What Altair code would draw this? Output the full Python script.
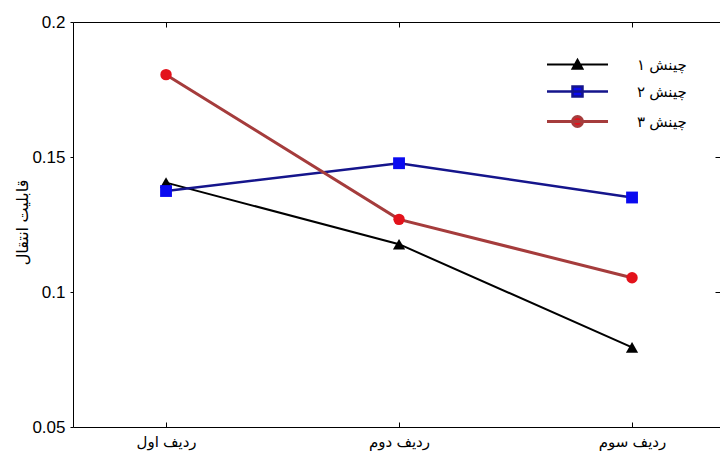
import altair as alt
import pandas as pd

# ---- data ----
categories = ["ردیف اول", "ردیف دوم", "ردیف سوم"]
series_names = ["چینش ۱", "چینش ۲", "چینش ۳"]
values_s1 = [0.1405, 0.1177, 0.0795]
values_s2 = [0.1374, 0.1477, 0.1350]
values_s3 = [0.1805, 0.1269, 0.1053]
y_ticks = [0.05, 0.1, 0.15, 0.2]
y_title = "قابلیت انتقال"

# ---- styles ----
line_colors = ["#000000", "#15158c", "#a53c3c"]
marker_colors = ["#000000", "#0a0af0", "#e3121b"]
marker_shapes = ["triangle-up", "square", "circle"]
marker_sizes = [150, 140, 130]
line_widths = [2, 3, 1.5]
legend_paths = [
    "M-6.1,0H6.1M-1,0.85L0,-0.95L1,0.85Z",
    "M-6.1,0H6.1M-1,-1H1V1H-1Z",
    "M-6.1,0H6.1M-1,0A1,1 0 1,0 1,0A1,1 0 1,0 -1,0Z",
]
FONT = "Liberation Sans, DejaVu Sans"
W, H = 647, 405

series_values = [values_s1, values_s2, values_s3]
rows = []
for s, vals in zip(series_names, series_values):
    for c, v in zip(categories, vals):
        rows.append({"cat": c, "series": s, "val": v})
df = pd.DataFrame(rows)

x_scale = alt.Scale(domain=categories, type="point", padding=0.3884, align=0.514)
y_scale = alt.Scale(domain=[0.05, 0.2], nice=False, zero=False)

base = alt.Chart(df)

lines = base.mark_line().encode(
    x=alt.X("cat:N", scale=x_scale, axis=alt.Axis(
        title=None, orient="bottom", domain=True, domainColor="black", domainWidth=1,
        ticks=False, labelAngle=0, labelFontSize=15, labelFont=FONT, labelColor="black",
        labelPadding=7, grid=False)),
    y=alt.Y("val:Q", scale=y_scale, axis=alt.Axis(
        title=y_title, values=y_ticks, format=".2~f", tickSize=3, tickColor="black",
        domainColor="black", domainWidth=1, labelFontSize=17, labelFont=FONT,
        labelColor="black", labelPadding=5, grid=False, titleFontSize=16,
        titleFont=FONT, titleFontWeight="normal", titleColor="black",
        titleX=-51, titleY=200, titleBaseline="middle")),
    color=alt.Color("series:N", scale=alt.Scale(domain=series_names, range=line_colors), legend=None),
    strokeWidth=alt.StrokeWidth("series:N", scale=alt.Scale(domain=series_names, range=line_widths), legend=None),
)

point_layers = []
extra_x_axes = [
    alt.Axis(orient="top", offset=-H, labels=False, domain=False, ticks=True, tickSize=5,
             tickColor="black", title=None, grid=False),
    alt.Axis(orient="bottom", offset=-H, labels=False, domain=True, domainColor="black",
             ticks=True, tickSize=5, tickColor="black", title=None, grid=False),
    None,
]
extra_y_axes = [
    alt.Axis(orient="left", offset=-W, labels=False, domain=False, values=y_ticks,
             tickSize=5, tickColor="black", title=None, grid=False),
    None,
    None,
]
for i, name in enumerate(series_names):
    point_layers.append(
        base.transform_filter(alt.datum.series == name).mark_point(
            filled=True, shape=marker_shapes[i], size=marker_sizes[i],
            color=marker_colors[i], opacity=1,
        ).encode(
            x=alt.X("cat:N", scale=x_scale, axis=extra_x_axes[i]),
            y=alt.Y("val:Q", scale=y_scale, axis=extra_y_axes[i]),
        )
    )

legend_kw = dict(
    orient="none", legendX=497, legendY=35, title=None, symbolSize=100,
    symbolStrokeWidth=2, labelFontSize=15, labelFont=FONT, labelColor="black",
    labelOffset=52, rowPadding=8, padding=0, symbolOpacity=1, labelLimit=0,
)
legend_layer = base.mark_point(filled=True, opacity=0).encode(
    x=alt.X("cat:N", scale=x_scale, axis=None),
    y=alt.Y("val:Q", scale=y_scale, axis=None),
    shape=alt.Shape("series:N", scale=alt.Scale(domain=series_names, range=legend_paths),
                    legend=alt.Legend(**legend_kw)),
    fill=alt.Fill("series:N", scale=alt.Scale(domain=series_names, range=marker_colors),
                  legend=alt.Legend(**legend_kw)),
    stroke=alt.Stroke("series:N", scale=alt.Scale(domain=series_names, range=line_colors),
                      legend=alt.Legend(**legend_kw)),
)

chart = alt.layer(legend_layer, lines, *point_layers).resolve_axis(
    x="independent", y="independent"
).properties(
    width=W, height=H,
    autosize=alt.AutoSizeParams(type="none"),
    padding={"left": 73, "top": 22, "right": 0, "bottom": 32},
    background="white",
).configure_view(stroke=None)

chart.save("out.html", embed_options={"renderer": "svg", "actions": False})
